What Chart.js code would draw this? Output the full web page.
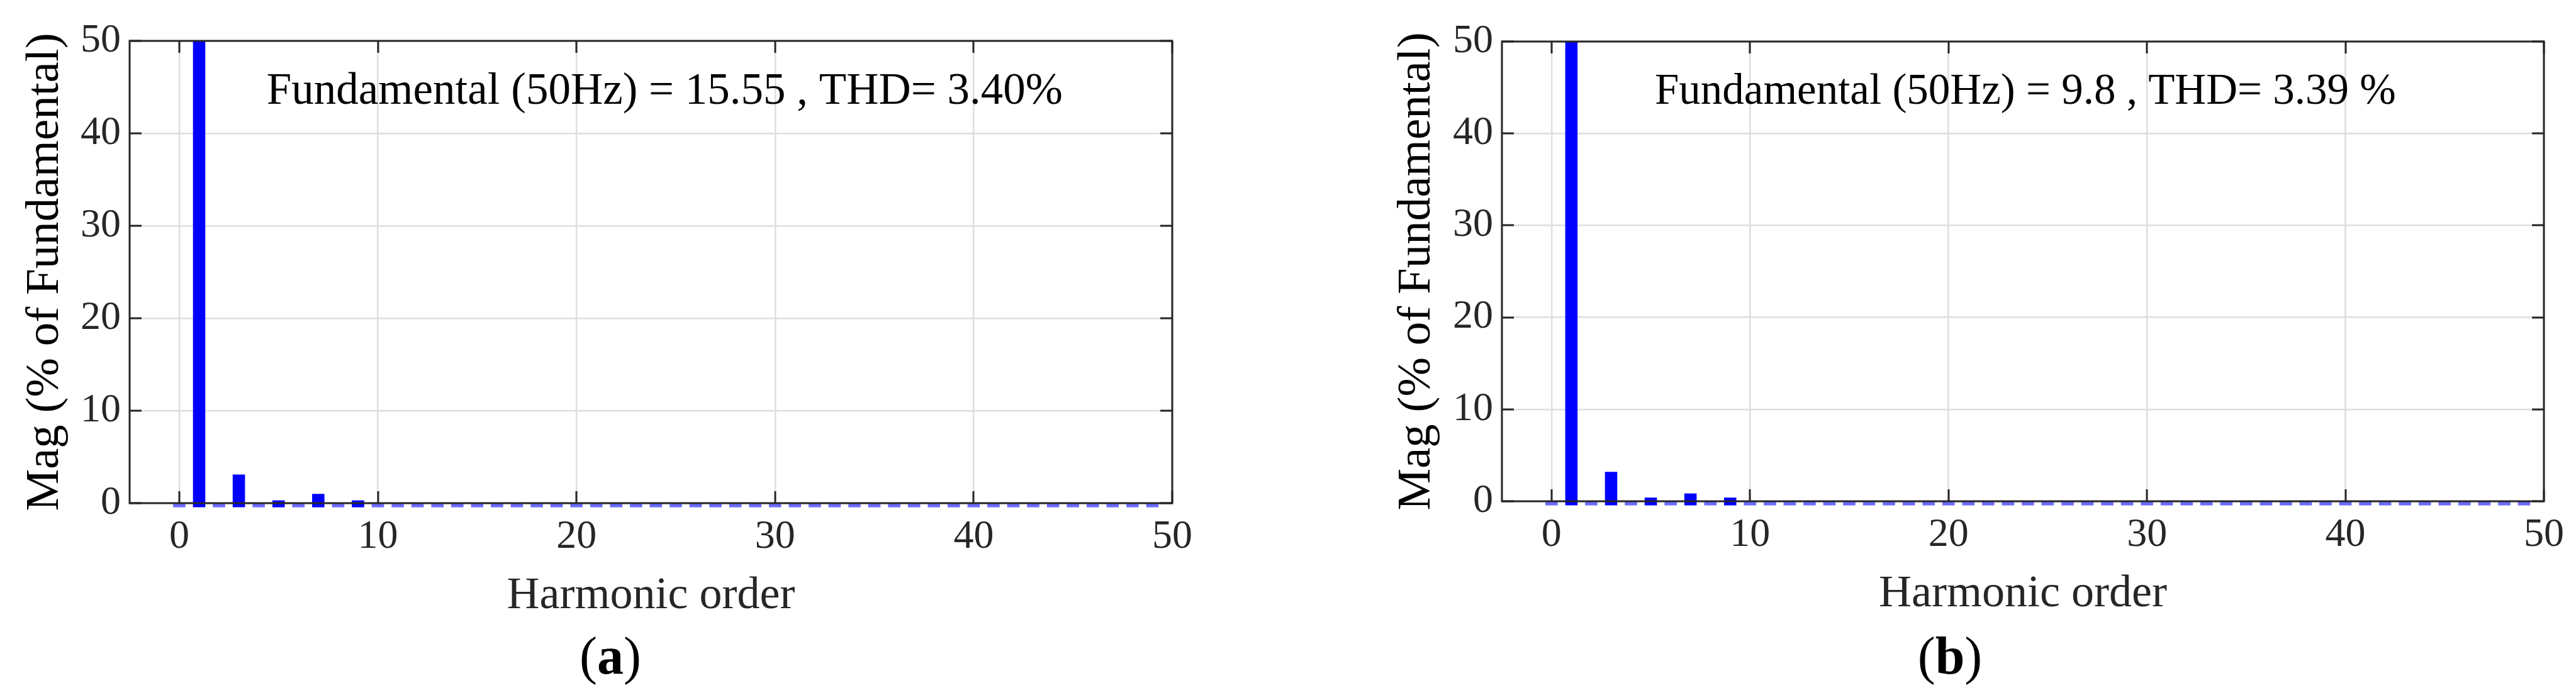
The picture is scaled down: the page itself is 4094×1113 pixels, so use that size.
<!DOCTYPE html>
<html>
<head>
<meta charset="utf-8">
<title>Harmonic spectrum</title>
<script src="https://cdn.jsdelivr.net/npm/chart.js@4.4.1/dist/chart.umd.min.js"></script>
<style>
    html, body { margin: 0; padding: 0; background: #fff; }
    #page { position: relative; width: 4094px; height: 1113px; overflow: hidden; }
    .box { position: absolute; top: 0; height: 1113px; }
    #boxA { left: 0; width: 1940px; }
    #boxB { left: 2150px; width: 1944px; }
    .caption {
        position: absolute; top: 1001px; width: 300px; text-align: center;
        font-family: "Liberation Serif", "Times New Roman", serif;
        font-size: 84px; line-height: 1; color: #000;
    }
    #capA { left: 820px; }
    #capB { left: 2949px; }
</style>
</head>
<body>
<div id="page">
    <div class="box" id="boxA"><canvas id="chartA"></canvas></div>
    <div class="box" id="boxB"><canvas id="chartB"></canvas></div>
    <div class="caption" id="capA">(<b>a</b>)</div>
    <div class="caption" id="capB">(<b>b</b>)</div>
</div>

<script>
// harmonic order 0..49
var harmonics = [0, 1, 2, 3, 4, 5, 6, 7, 8, 9,
    10, 11, 12, 13, 14, 15, 16, 17, 18, 19,
    20, 21, 22, 23, 24, 25, 26, 27, 28, 29,
    30, 31, 32, 33, 34, 35, 36, 37, 38, 39,
    40, 41, 42, 43, 44, 45, 46, 47, 48, 49];

// Mag (% of Fundamental), panel (a)
var magA = [0, 100, 0, 3.1, 0, 0.3, 0, 1.0, 0, 0.3,
    0, 0, 0, 0, 0, 0, 0, 0, 0, 0,
    0, 0, 0, 0, 0, 0, 0, 0, 0, 0,
    0, 0, 0, 0, 0, 0, 0, 0, 0, 0,
    0, 0, 0, 0, 0, 0, 0, 0, 0, 0];

// Mag (% of Fundamental), panel (b)
var magB = [0, 100, 0, 3.2, 0, 0.4, 0, 0.85, 0, 0.4,
    0, 0, 0, 0, 0, 0, 0, 0, 0, 0,
    0, 0, 0, 0, 0, 0, 0, 0, 0, 0,
    0, 0, 0, 0, 0, 0, 0, 0, 0, 0,
    0, 0, 0, 0, 0, 0, 0, 0, 0, 0];

var xTicks = [0, 10, 20, 30, 40, 50];
var yTicks = [0, 10, 20, 30, 40, 50];

var noteA = "Fundamental (50Hz) = 15.55 , THD= 3.40%";
var noteB = "Fundamental (50Hz) = 9.8 , THD= 3.39 %";

var serif = "'Liberation Serif', 'Times New Roman', serif";
var ink = "#262626";

// box round the plot + inward tick marks, like MATLAB axes
var frameTicks = {
    id: 'frameTicks',
    afterDatasetsDraw: function (chart) {
        var ctx = chart.ctx;
        var a = chart.chartArea;
        var xs = chart.scales.x;
        var ys = chart.scales.y;
        var len = 19;

        ctx.save();
        ctx.strokeStyle = ink;
        ctx.lineWidth = 3;
        ctx.beginPath();
        xs.ticks.forEach(function (t) {
            var px = Math.round(xs.getPixelForValue(t.value));
            ctx.moveTo(px, a.bottom); ctx.lineTo(px, a.bottom - len);
            ctx.moveTo(px, a.top); ctx.lineTo(px, a.top + len);
        });
        ys.ticks.forEach(function (t) {
            var py = Math.round(ys.getPixelForValue(t.value));
            ctx.moveTo(a.left, py); ctx.lineTo(a.left + len, py);
            ctx.moveTo(a.right, py); ctx.lineTo(a.right - len, py);
        });
        ctx.stroke();
        ctx.strokeRect(a.left, a.top, a.right - a.left, a.bottom - a.top);
        ctx.restore();
    }
};

// text note placed at data coordinates
var notePlugin = {
    id: 'note',
    afterDraw: function (chart, args, opts) {
        if (!opts || !opts.text) return;
        var ctx = chart.ctx;
        ctx.save();
        ctx.font = opts.size + "px " + serif;
        ctx.fillStyle = "#000";
        ctx.textAlign = "left";
        ctx.textBaseline = "alphabetic";
        ctx.fillText(opts.text, chart.scales.x.getPixelForValue(opts.x), chart.scales.y.getPixelForValue(opts.y));
        ctx.restore();
    }
};

function makeChart(canvasId, values, note, noteX, noteSize, yAxisWidth, yTitlePad, pad) {
    var points = harmonics.map(function (h, i) {
        return { x: h, y: values[i] };
    });

    var ctx = document.getElementById(canvasId);

    return new Chart(ctx, {
        type: "bar",
        data: {
            datasets: [{
                data: points,
                base: -0.45,
                backgroundColor: function (c) {
                    return (c.raw && c.raw.y > 0) ? "#0000ff" : "#6b6bff";
                },
                borderWidth: 0,
                barPercentage: 0.62,
                categoryPercentage: 1,
                grouped: false,
                clip: { left: 0, top: 0, right: 0, bottom: 12 }
            }]
        },
        options: {
            responsive: true,
            maintainAspectRatio: false,
            animation: false,
            layout: {
                padding: pad
            },
            plugins: {
                legend: { display: false },
                tooltip: { enabled: false },
                note: { text: note, x: noteX, y: 43.2, size: noteSize }
            },
            scales: {
                x: {
                    type: "linear",
                    min: -2.5,
                    max: 50,
                    offset: false,
                    afterBuildTicks: function (scale) {
                        scale.ticks = xTicks.map(function (v) { return { value: v }; });
                    },
                    afterFit: function (scale) { scale.height = 196; },
                    grid: { offset: false, color: "#dedede", lineWidth: 2.5, drawTicks: false },
                    border: { display: false },
                    ticks: {
                        color: ink,
                        padding: 16,
                        maxRotation: 0,
                        font: { family: serif, size: 64 }
                    },
                    title: {
                        display: true,
                        text: "Harmonic order",
                        color: ink,
                        padding: { top: 0, bottom: 5 },
                        font: { family: serif, size: 72 }
                    }
                },
                y: {
                    min: 0,
                    max: 50,
                    afterBuildTicks: function (scale) {
                        scale.ticks = yTicks.map(function (v) { return { value: v }; });
                    },
                    afterFit: function (scale) { scale.width = yAxisWidth; },
                    grid: { color: "#dedede", lineWidth: 2.5, drawTicks: false },
                    border: { display: false },
                    ticks: {
                        color: ink,
                        padding: 14,
                        font: { family: serif, size: 64 }
                    },
                    title: {
                        display: true,
                        text: "Mag (% of Fundamental)",
                        color: "#000",
                        padding: { top: yTitlePad, bottom: 0 },
                        font: { family: serif, size: 75 }
                    }
                }
            }
        },
        plugins: [frameTicks, notePlugin]
    });
}

makeChart("chartA", magA, noteA, 4.4, 71, 206, 27, { top: 65, left: 0, right: 77, bottom: 117 });
makeChart("chartB", magB, noteB, 5.2, 69, 237, 57, { top: 66, left: 0, right: 51, bottom: 120 });
</script>
</body>
</html>
